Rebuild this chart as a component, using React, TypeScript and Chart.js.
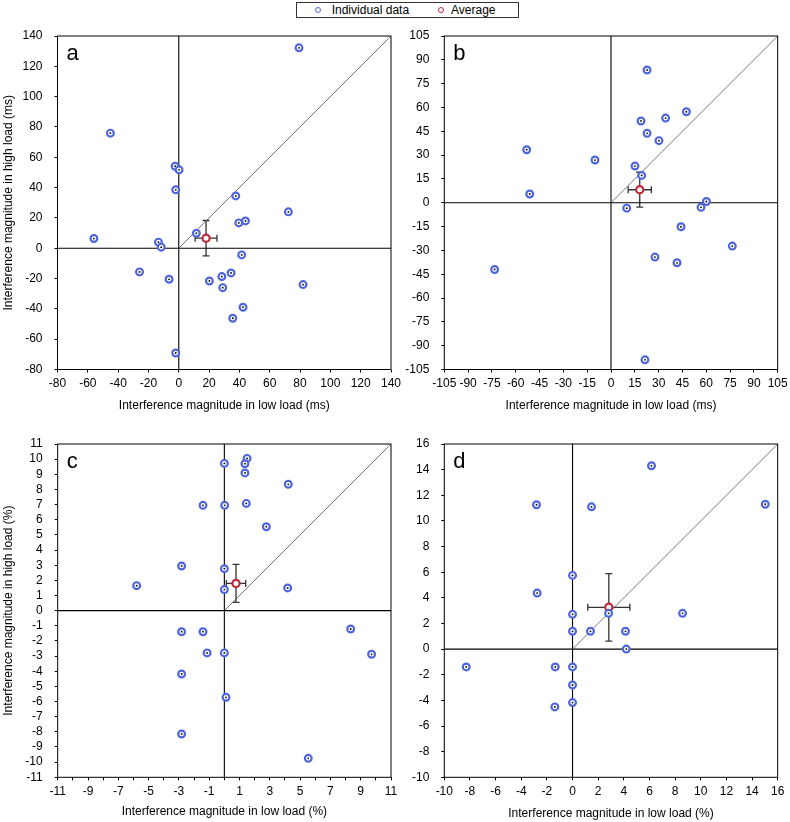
import React, { useEffect, useRef } from 'react';
import { Chart, registerables } from 'chart.js';

Chart.register(...registerables);

const FONT = '"Liberation Sans", Arial, Helvetica, sans-serif';
const BLUE = '#4f66dc';
const RED = '#c0283c';

// ---------- Panel a (ms) ----------
const aLow = [79.3, -45.1, -2.4, 0.2, -2.0, 37.6, 72.3, 39.6, 44.0, 11.6, -56.0, -13.4, -11.6, 41.5, -25.9, -6.4, 20.2, 28.4, 34.5, 29.0, 82.0, 42.4, 35.6, -2.0];
const aHigh = [132.2, 75.9, 54.1, 51.7, 38.5, 34.5, 24.0, 16.7, 18.0, 9.9, 6.4, 4.0, 0.7, -4.4, -15.6, -20.5, -21.6, -18.7, -16.3, -26.0, -24.0, -38.9, -46.2, -69.1];
const aAvg = [18.0, 6.6];
const aErr = [7.2, 11.7];
const aTicks = [-80, -60, -40, -20, 0, 20, 40, 60, 80, 100, 120, 140];

// ---------- Panel b (ms) ----------
const bLow = [22.7, 47.5, 34.4, 18.9, 22.7, 30.2, -53.1, -10.1, 15.1, 19.3, -51.2, 9.9, 56.7, 60.1, 44.1, 76.4, 27.7, 41.6, -73.3, 21.4];
const bHigh = [83.6, 57.3, 53.3, 51.5, 43.7, 39.1, 33.4, 26.9, 23.1, 17.2, 5.5, -3.4, -2.9, 0.8, -15.1, -27.3, -34.2, -37.8, -42.0, -98.9];
const bAvg = [18.1, 8.2];
const bErr = [7.3, 11.0];
const bTicks = [-105, -90, -75, -60, -45, -30, -15, 0, 15, 30, 45, 60, 75, 90, 105];

// ---------- Panel c (%) ----------
const cLow = [1.5, 0.0, 1.36, 1.36, 4.22, -1.41, 0.02, 1.45, 2.77, -2.82, 0.0, -5.79, 0.0, 4.18, -2.82, -1.41, 8.34, -1.14, 0.0, 9.72, -2.82, 0.11, -2.82, 5.54];
const cHigh = [10.05, 9.72, 9.7, 9.09, 8.34, 6.95, 6.95, 7.08, 5.54, 2.95, 2.77, 1.65, 1.39, 1.5, -1.39, -1.39, -1.21, -2.79, -2.79, -2.88, -4.18, -5.72, -8.14, -9.75];
const cAvg = [0.77, 1.8];
const cErr = [0.64, 1.25];
const cTicks = [-11, -10, -9, -8, -7, -6, -5, -4, -3, -2, -1, 0, 1, 2, 3, 4, 5, 6, 7, 8, 9, 10, 11];
const cXLabels = [-11, -9, -7, -5, -3, -1, 1, 3, 5, 7, 9, 11];

// ---------- Panel d (%) ----------
const dLow = [6.16, -2.81, 1.48, 15.03, 0.0, -2.76, 0.0, 2.81, 8.58, 0.0, 1.4, 4.13, 4.19, -8.29, -1.35, 0.0, 0.0, 0.0, -1.38];
const dHigh = [14.3, 11.26, 11.1, 11.3, 5.75, 4.37, 2.71, 2.79, 2.79, 1.39, 1.39, 1.39, 0.0, -1.39, -1.39, -1.39, -2.8, -4.17, -4.51];
const dAvg = [2.83, 3.26];
const dErr = [1.64, 2.63];
const dTicks = [-10, -8, -6, -4, -2, 0, 2, 4, 6, 8, 10, 12, 14, 16];

const X_MS = 'Interference magnitude in low load (ms)';
const Y_MS = 'Interference magnitude in high load (ms)';
const X_PC = 'Interference magnitude in low load (%)';
const Y_PC = 'Interference magnitude in high load (%)';

type Panel = {
  letter: string;
  low: number[];
  high: number[];
  avg: number[];
  err: number[];
  xTicks: number[];
  yTicks: number[];
  xLabels: number[];
  xTitle: string;
  yTitle: string | null;
  canvas: { left: number; top: number; width: number; height: number };
  plot: { l: number; t: number; r: number; b: number };
  yTitleX: number;
  xTitleY: number;
};

const panels: Panel[] = [
  {
    letter: 'a', low: aLow, high: aHigh, avg: aAvg, err: aErr,
    xTicks: aTicks, yTicks: aTicks, xLabels: aTicks,
    xTitle: X_MS, yTitle: Y_MS,
    canvas: { left: 0, top: 20, width: 405, height: 400 },
    plot: { l: 57.5, t: 36, r: 391, b: 369.5 },
    yTitleX: 8.5, xTitleY: 406,
  },
  {
    letter: 'b', low: bLow, high: bHigh, avg: bAvg, err: bErr,
    xTicks: bTicks, yTicks: bTicks, xLabels: bTicks,
    xTitle: X_MS, yTitle: null,
    canvas: { left: 395, top: 20, width: 395, height: 400 },
    plot: { l: 444.3, t: 36, r: 777.7, b: 369.5 },
    yTitleX: 0, xTitleY: 406,
  },
  {
    letter: 'c', low: cLow, high: cHigh, avg: cAvg, err: cErr,
    xTicks: cTicks, yTicks: cTicks, xLabels: cXLabels,
    xTitle: X_PC, yTitle: Y_PC,
    canvas: { left: 0, top: 425, width: 405, height: 397 },
    plot: { l: 57.7, t: 444, r: 391, b: 777.3 },
    yTitleX: 8.5, xTitleY: 812,
  },
  {
    letter: 'd', low: dLow, high: dHigh, avg: dAvg, err: dErr,
    xTicks: dTicks, yTicks: dTicks, xLabels: dTicks,
    xTitle: X_PC, yTitle: null,
    canvas: { left: 395, top: 425, width: 395, height: 397 },
    plot: { l: 444.3, t: 444, r: 777.7, b: 777.3 },
    yTitleX: 0, xTitleY: 814,
  },
];

const HALF_LINE = 7.2; // half of 12px * 1.2 line height

function makeConfig(p: Panel): any {
  const c = p.canvas;
  const padLeft = p.yTitle ? p.yTitleX - HALF_LINE - c.left : 0;
  const padTop = p.plot.t - c.top;
  const padRight = c.left + c.width - p.plot.r;
  const scaleBottom = p.xTitleY - c.top + HALF_LINE;
  const padBottom = c.height - scaleBottom;
  const xH = scaleBottom - (p.plot.b - c.top);
  const yW = p.plot.l - c.left - padLeft;

  const min = p.xTicks[0];
  const max = p.xTicks[p.xTicks.length - 1];
  const ymin = p.yTicks[0];
  const ymax = p.yTicks[p.yTicks.length - 1];

  const deco = {
    id: 'deco',
    beforeDatasetsDraw(chart: any) {
      const { ctx, scales } = chart;
      const x = scales.x, y = scales.y;
      const cx = x.getPixelForValue(p.avg[0]);
      const cy = y.getPixelForValue(p.avg[1]);
      const x1 = x.getPixelForValue(p.avg[0] - p.err[0]);
      const x2 = x.getPixelForValue(p.avg[0] + p.err[0]);
      const y1 = y.getPixelForValue(p.avg[1] + p.err[1]);
      const y2 = y.getPixelForValue(p.avg[1] - p.err[1]);
      const cap = 3.5;
      ctx.save();
      ctx.strokeStyle = '#333';
      ctx.lineWidth = 1.3;
      ctx.beginPath();
      ctx.moveTo(x1, cy); ctx.lineTo(x2, cy);
      ctx.moveTo(x1, cy - cap); ctx.lineTo(x1, cy + cap);
      ctx.moveTo(x2, cy - cap); ctx.lineTo(x2, cy + cap);
      ctx.moveTo(cx, y1); ctx.lineTo(cx, y2);
      ctx.moveTo(cx - cap, y1); ctx.lineTo(cx + cap, y1);
      ctx.moveTo(cx - cap, y2); ctx.lineTo(cx + cap, y2);
      ctx.stroke();
      ctx.restore();
    },
    afterDraw(chart: any) {
      const { ctx, chartArea } = chart;
      const { left, top, right, bottom } = chartArea;
      ctx.save();
      ctx.strokeStyle = '#000';
      ctx.lineWidth = 1;
      ctx.strokeRect(left, top, right - left, bottom - top);
      ctx.fillStyle = '#000';
      ctx.font = `22px ${FONT}`;
      ctx.textBaseline = 'alphabetic';
      ctx.textAlign = 'left';
      ctx.fillText(p.letter, left + 9, top + 24);
      ctx.restore();
    },
  };

  const grid = {
    display: true,
    drawOnChartArea: false,
    drawTicks: true,
    tickLength: 3,
    tickWidth: 1,
    tickColor: '#000',
    color: '#000',
  };

  const titleFont = { family: FONT, size: 12 };

  return {
    type: 'scatter',
    data: {
      datasets: [
        {
          label: 'dots',
          data: p.low.map((v, i) => ({ x: v, y: p.high[i] })),
          pointRadius: 0.9,
          pointBackgroundColor: '#000',
          pointBorderWidth: 0,
          order: 1,
        },
        {
          label: 'Individual data',
          data: p.low.map((v, i) => ({ x: v, y: p.high[i] })),
          pointRadius: 3.4,
          pointBorderWidth: 2.2,
          pointBorderColor: BLUE,
          pointBackgroundColor: '#fff',
          order: 2,
        },
        {
          label: 'Average',
          data: [{ x: p.avg[0], y: p.avg[1] }],
          pointRadius: 3.6,
          pointBorderWidth: 2.2,
          pointBorderColor: RED,
          pointBackgroundColor: '#fff',
          order: 3,
        },
        {
          label: 'diag',
          data: [{ x: 0, y: 0 }, { x: Math.min(max, ymax), y: Math.min(max, ymax) }],
          showLine: true,
          borderColor: '#555',
          borderWidth: 0.8,
          pointRadius: 0,
          order: 10,
        },
        {
          label: 'zeroY',
          data: [{ x: min, y: 0 }, { x: max, y: 0 }],
          showLine: true,
          borderColor: '#000',
          borderWidth: 1.1,
          pointRadius: 0,
          order: 11,
        },
        {
          label: 'zeroX',
          data: [{ x: 0, y: ymin }, { x: 0, y: ymax }],
          showLine: true,
          borderColor: '#000',
          borderWidth: 1.1,
          pointRadius: 0,
          order: 12,
        },
      ],
    },
    options: {
      responsive: false,
      animation: false,
      events: [],
      layout: { padding: { left: padLeft, top: padTop, right: padRight, bottom: padBottom } },
      plugins: {
        legend: { display: false },
        tooltip: { enabled: false },
      },
      scales: {
        x: {
          type: 'linear',
          position: 'bottom',
          min,
          max,
          afterBuildTicks: (s: any) => {
            s.ticks = p.xTicks.map((v) => ({ value: v }));
          },
          afterFit: (s: any) => {
            s.height = xH;
            s.paddingLeft = 0;
            s.paddingRight = 0;
          },
          ticks: {
            autoSkip: false,
            maxRotation: 0,
            minRotation: 0,
            padding: 4,
            color: '#000',
            font: { family: FONT, size: 12 },
            callback: (v: number) => (p.xLabels.includes(v) ? String(v) : ''),
          },
          grid,
          border: { display: false },
          title: { display: true, text: p.xTitle, color: '#000', font: titleFont, padding: 0 },
        },
        y: {
          type: 'linear',
          position: 'left',
          min: ymin,
          max: ymax,
          afterBuildTicks: (s: any) => {
            s.ticks = p.yTicks.map((v) => ({ value: v }));
          },
          afterFit: (s: any) => {
            s.width = yW;
            s.paddingTop = 0;
            s.paddingBottom = 0;
          },
          ticks: {
            autoSkip: false,
            padding: 12,
            color: '#000',
            font: { family: FONT, size: 12 },
            callback: (v: number) => String(v),
          },
          grid,
          border: { display: false },
          title: {
            display: !!p.yTitle,
            text: p.yTitle || '',
            color: '#000',
            font: titleFont,
            padding: 0,
          },
        },
      },
    },
    plugins: [deco],
  };
}

function PanelChart({ p }: { p: Panel }) {
  const ref = useRef<HTMLCanvasElement | null>(null);
  useEffect(() => {
    if (!ref.current) return;
    const chart = new Chart(ref.current, makeConfig(p));
    return () => chart.destroy();
  }, [p]);
  return (
    <canvas
      ref={ref}
      width={p.canvas.width}
      height={p.canvas.height}
      style={{
        position: 'absolute',
        left: p.canvas.left,
        top: p.canvas.top,
        width: p.canvas.width,
        height: p.canvas.height,
      }}
    />
  );
}

function Ring({ color, left }: { color: string; left: number }) {
  return (
    <span
      style={{
        position: 'absolute',
        left,
        top: 3.5,
        width: 4,
        height: 4,
        border: `1.6px solid ${color}`,
        borderRadius: '50%',
        boxSizing: 'content-box',
      }}
    />
  );
}

export default function App() {
  return (
    <div
      style={{
        position: 'absolute',
        left: 0,
        top: 0,
        width: 790,
        height: 822,
        background: '#fff',
        fontFamily: FONT,
        color: '#000',
      }}
    >
      {panels.map((p) => (
        <PanelChart key={p.letter} p={p} />
      ))}
      <div
        style={{
          position: 'absolute',
          left: 296,
          top: 2,
          width: 223,
          height: 16,
          border: '1px solid #333',
          boxSizing: 'border-box',
          fontSize: 12,
          lineHeight: '14px',
          zIndex: 2,
          background: '#fff',
        }}
      >
        <Ring color={BLUE} left={18.3} />
        <span style={{ position: 'absolute', left: 34.7, top: 0, whiteSpace: 'nowrap' }}>Individual data</span>
        <Ring color={RED} left={141} />
        <span style={{ position: 'absolute', left: 154, top: 0, whiteSpace: 'nowrap' }}>Average</span>
      </div>
    </div>
  );
}
